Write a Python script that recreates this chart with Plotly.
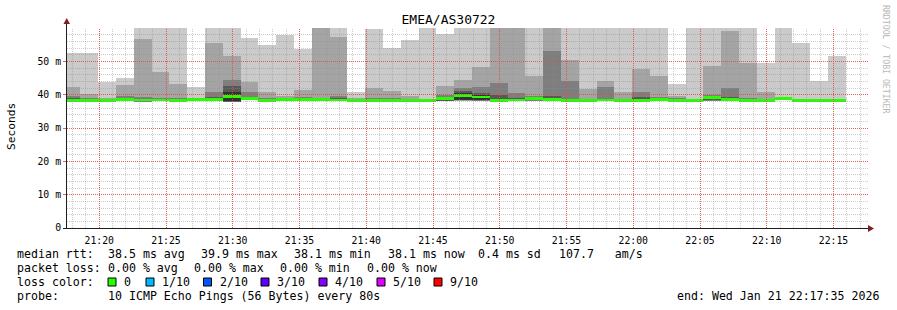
import math
import pandas as pd
import plotly.graph_objects as go

# ---------------- data (ms) ----------------
step_start = pd.Timestamp("2026-01-21 21:17:15")
step_seconds = 80
view_start = pd.Timestamp("2026-01-21 21:17:35")
view_end = pd.Timestamp("2026-01-21 22:17:35")

p10 = [52.5,52.5,43.8,45.0,60,60,60,42.3,60,60,57.0,54.8,57.9,53.6,60,60,40.8,59.6,54.0,56.3,60,58.1,60,60,60,60,60,60,60,60,60,60,60,60,43.3,60,60,60,60,49.5,60,55.5,44.0,51.6]
p9 = [42.2,40.1,38.9,42.8,56.6,46.8,43.1,39.1,55.5,51.5,43.8,40.7,39.5,41.3,60,57.3,38.9,42.0,41.1,39.5,38.8,42.5,44.3,48.3,60,60,45.6,60,50.3,41.6,44.0,40.7,47.6,45.5,39.5,38.8,48.5,59.0,49.5,40.7,38.9,38.6,38.4,38.3]
p8 = [39.5,39.0,38.7,39.5,39.2,39.0,39.0,38.9,40.8,44.3,40.8,39.0,39.0,39.2,39.0,39.6,38.7,39.0,38.9,38.7,38.6,40.0,42.1,42.3,43.5,40.5,39.5,53.0,44.1,38.8,42.2,38.8,40.7,39.2,38.9,38.6,40.0,41.9,39.0,38.8,38.9,38.5,38.3,38.2]
p7 = [38.9,38.7,38.6,39.0,38.8,38.7,38.7,38.8,39.2,42.5,39.4,38.5,38.8,38.9,38.8,39.0,38.6,38.6,38.6,38.5,38.4,39.3,41.1,40.6,40.0,38.9,39.1,39.6,38.8,38.5,38.8,38.5,39.2,38.9,38.6,38.5,39.6,39.2,38.7,38.5,38.8,38.5,38.3,38.2]
p6 = [38.5,38.5,38.4,38.8,38.6,38.5,38.5,38.7,38.8,40.9,39.1,38.3,38.6,38.7,38.7,38.7,38.4,38.4,38.4,38.3,38.3,39.0,40.6,39.9,38.6,38.6,38.95,38.9,38.5,38.4,38.6,38.4,38.7,38.7,38.5,38.4,39.4,38.8,38.5,38.4,38.8,38.4,38.25,38.2]
p5 = [38.2,38.1,38.2,38.4,38.2,38.3,38.2,38.5,38.4,38.0,38.7,38.1,38.4,38.5,38.5,38.2,38.2,38.2,38.2,38.1,38.1,38.6,38.4,38.4,38.1,38.2,38.7,38.4,38.2,38.2,38.3,38.2,38.1,38.5,38.2,38.1,38.6,38.4,38.2,38.1,38.5,38.2,38.1,38.1]
p4 = [38.1,38.1,38.1,38.3,38.0,38.2,38.0,38.4,38.3,37.95,38.6,37.9,38.3,38.4,38.4,38.1,38.1,38.1,38.1,37.9,38.0,38.2,38.3,38.3,38.0,38.1,38.3,38.3,38.1,38.1,38.2,38.1,38.0,38.4,38.1,37.9,38.3,38.3,38.1,37.9,38.4,38.1,38.0,38.0]
p3 = [38.1,38.0,38.0,38.2,37.9,38.2,37.9,38.4,38.3,37.9,38.5,37.9,38.3,38.4,38.4,38.1,38.1,38.1,38.1,37.8,38.0,38.1,38.3,38.2,38.0,38.1,38.2,38.2,38.1,38.1,38.2,38.1,38.0,38.4,38.1,37.8,38.2,38.2,38.1,37.8,38.4,38.1,38.0,38.0]
p2 = [38.0,38.0,37.9,38.2,37.8,38.1,37.9,38.3,38.2,37.9,38.4,37.8,38.2,38.3,38.3,38.0,38.0,38.0,38.0,37.8,37.9,38.0,38.2,38.2,37.9,38.0,38.1,38.2,38.0,38.0,38.1,38.0,37.9,38.3,38.0,37.8,38.1,38.2,38.0,37.8,38.3,38.0,37.9,37.9]
p1 = [38.0,37.9,37.8,38.1,37.8,38.1,37.8,38.3,38.2,37.85,38.3,37.8,38.2,38.3,38.3,38.0,38.0,38.0,38.0,37.7,37.9,38.0,38.2,38.1,37.9,38.0,38.1,38.1,38.0,38.0,38.1,38.0,37.9,38.3,38.0,37.7,38.1,38.1,38.0,37.7,38.3,38.0,37.9,37.9]
median = [38.33,38.3,38.3,38.58,38.4,38.4,38.35,38.6,38.6,39.53,38.9,38.2,38.5,38.6,38.6,38.4,38.3,38.3,38.3,38.2,38.2,38.85,39.83,39.3,38.3,38.4,38.85,38.6,38.35,38.3,38.4,38.3,38.35,38.6,38.35,38.3,39.1,38.6,38.35,38.3,38.8,38.35,38.2,38.15]

y_tick_vals = [0, 10, 20, 30, 40, 50]
y_tick_text = ["0", "10 m", "20 m", "30 m", "40 m", "50 m"]
y_max = 60

loss_labels = ["0", "1/10", "2/10", "3/10", "4/10", "5/10", "9/10"]
loss_colors = ["#26ff00", "#00b8ff", "#0059ff", "#5e00ff", "#7e00ff", "#dd00ff", "#ff0000"]

title = "EMEA/AS30722"
stats_rtt = ["38.5 ms avg", "39.9 ms max", "38.1 ms min", "38.1 ms now", "0.4 ms sd", "107.7   am/s"]
stats_loss = ["0.00 % avg", "0.00 % max", "0.00 % min", "0.00 % now"]
probe_text = "10 ICMP Echo Pings (56 Bytes) every 80s"
end_text = "end: Wed Jan 21 22:17:35 2026"

# ---------------- figure ----------------
n = len(median)
times = [step_start + pd.Timedelta(seconds=step_seconds * k + step_seconds / 2) for k in range(n)]
lows = [p1, p2, p3, p4, p5]
highs = [p10, p9, p8, p7, p6]
smoke_colors = ["#cacaca", "#a4a4a4", "#7e7e7e", "#585858", "#323232"]

GRID = "rgba(143,143,143,0.45)"
MGRID = "rgba(222,79,79,0.9)"
AXIS = "rgb(31,31,31)"
ARROW = "rgb(128,31,31)"
DASH = "1px,1px"

MONO = "DejaVu Sans Mono"
L, R, T, B = 67, 29, 28, 82
W, H = 897, 310
PW, PH = W - L - R, H - T - B
span = (view_end - view_start).total_seconds()

fig = go.Figure()
for lo, hi, col in zip(lows, highs, smoke_colors):
    lo_c = [min(v, y_max) for v in lo]
    hi_c = [min(v, y_max) for v in hi]
    fig.add_trace(go.Bar(
        x=times, base=lo_c, y=[h - l for h, l in zip(hi_c, lo_c)],
        width=step_seconds * 1000, marker=dict(color=col, line=dict(width=0)),
        hoverinfo="skip", showlegend=False))

band = 0.85
fig.add_trace(go.Bar(
    x=times, base=[m - band / 2 for m in median], y=[band] * n,
    width=step_seconds * 1000, marker=dict(color=loss_colors[0], line=dict(width=0)),
    hoverinfo="skip", showlegend=False))

# ---- dotted grid drawn above the smoke (as rrdtool does), snapped to pixel centres ----
major_x = list(pd.date_range("2026-01-21 21:20:00", "2026-01-21 22:15:00", freq="5min"))
minor_x = [t for t in pd.date_range("2026-01-21 21:18:00", "2026-01-21 22:17:00", freq="1min")
           if t.minute % 5 != 0]
major_y = [10, 20, 30, 40, 50]
minor_y = [v for v in range(2, y_max, 2) if v % 10 != 0]


def snap_t(t):
    pix = L + (t - view_start).total_seconds() / span * PW
    pix = math.floor(pix) + 0.5
    return view_start + pd.Timedelta(seconds=(pix - L) / PW * span)


def snap_v(v):
    pix = T + (y_max - v) / y_max * PH
    pix = math.floor(pix) + 0.5
    return y_max - (pix - T) / PH * y_max


def vlines(ts, color):
    xs, ys = [], []
    for t in ts:
        st = snap_t(t)
        xs += [st, st, None]
        ys += [0, y_max, None]
    fig.add_trace(go.Scatter(x=xs, y=ys, mode="lines", hoverinfo="skip", showlegend=False,
                             line=dict(color=color, width=1, dash=DASH), cliponaxis=False))


def hlines(vs, color):
    xs, ys = [], []
    for v in vs:
        sv = snap_v(v)
        xs += [view_start, view_end, None]
        ys += [sv, sv, None]
    fig.add_trace(go.Scatter(x=xs, y=ys, mode="lines", hoverinfo="skip", showlegend=False,
                             line=dict(color=color, width=1, dash=DASH), cliponaxis=False))


vlines(minor_x, GRID)
hlines(minor_y, GRID)
vlines(major_x, MGRID)
hlines(major_y, MGRID)


def px(x):
    return (x - L) / PW


def py(y):
    return (H - B - y) / PH


fig.update_layout(
    width=W, height=H,
    margin=dict(l=L, r=R, t=T, b=B, autoexpand=False),
    paper_bgcolor="white", plot_bgcolor="white",
    barmode="overlay", bargap=0,
    showlegend=False,
    font=dict(family=MONO, size=10, color="black"),
    title=dict(text=title, x=0.5, xref="container", xanchor="center",
               y=1 - 19 / H, yref="container", yanchor="middle",
               font=dict(family=MONO, size=13, color="black")),
    xaxis=dict(
        type="date", range=[view_start, view_end],
        tickmode="array", tickvals=major_x, ticktext=[t.strftime("%H:%M") for t in major_x],
        showgrid=False, showline=True, linecolor=AXIS, linewidth=1,
        ticks="", ticklabelstandoff=3,
        tickfont=dict(family=MONO, size=9.8, color="black"),
        zeroline=False, layer="above traces",
    ),
    yaxis=dict(
        range=[0, y_max], tickmode="array", tickvals=y_tick_vals, ticktext=y_tick_text,
        showgrid=False, showline=True, linecolor=AXIS, linewidth=1,
        ticks="outside", ticklen=3, tickcolor=MGRID,
        tickfont=dict(family=MONO, size=9.8, color="black"),
        zeroline=False, layer="above traces",
    ),
)

shapes = []
# axis extensions and arrows
shapes.append(dict(type="line", xref="paper", yref="paper", x0=px(66.5), x1=px(66.5), y0=1, y1=py(22),
                   line=dict(color=AXIS, width=1)))
shapes.append(dict(type="line", xref="paper", yref="paper", x0=px(63), x1=px(67), y0=py(228.5), y1=py(228.5),
                   line=dict(color=AXIS, width=1)))
shapes.append(dict(type="path", xref="paper", yref="paper",
                   path=f"M {px(63.5)} {py(24)} L {px(70)} {py(24)} L {px(66.7)} {py(18)} Z",
                   fillcolor=ARROW, line=dict(width=0)))
shapes.append(dict(type="path", xref="paper", yref="paper",
                   path=f"M {px(868)} {py(225)} L {px(868)} {py(232)} L {px(874)} {py(228.5)} Z",
                   fillcolor=ARROW, line=dict(width=0)))

annotations = []


def txt(x, y, s, anchor="left", size=11.6, color="black", family=MONO, angle=0):
    annotations.append(dict(x=px(x), y=py(y), xref="paper", yref="paper", text=s,
                            showarrow=False, xanchor=anchor, yanchor="middle",
                            borderpad=0, textangle=angle,
                            font=dict(family=family, size=size, color=color)))


txt(11, 127, "Seconds", anchor="center", size=11.2, angle=-90)
txt(886, 59, "RRDTOOL / TOBI OETIKER", anchor="center", size=8.2, color="#b8b8b8", angle=90)

# legend lines
txt(16, 254, "median rtt:")
for xpos, s in zip([107, 200, 293, 387, 477, 558], stats_rtt):
    txt(xpos, 254, s)
txt(16, 268, "packet loss:")
for xpos, s in zip([107, 193, 279, 366], stats_loss):
    txt(xpos, 268, s)
txt(16, 282, "loss color:")
sq_x = [108, 146, 203.5, 261, 319, 377, 434]
for sx, lab, col in zip(sq_x, loss_labels, loss_colors):
    shapes.append(dict(type="rect", xref="paper", yref="paper",
                       x0=px(sx), x1=px(sx + 8), y0=py(278), y1=py(286),
                       fillcolor=col, line=dict(color="black", width=1)))
    txt(sx + 15, 282, lab)
txt(16, 296, "probe:")
txt(107, 296, probe_text)
txt(880, 296, end_text, anchor="right")

fig.update_layout(shapes=shapes, annotations=annotations)

fig.write_html("out.html")
